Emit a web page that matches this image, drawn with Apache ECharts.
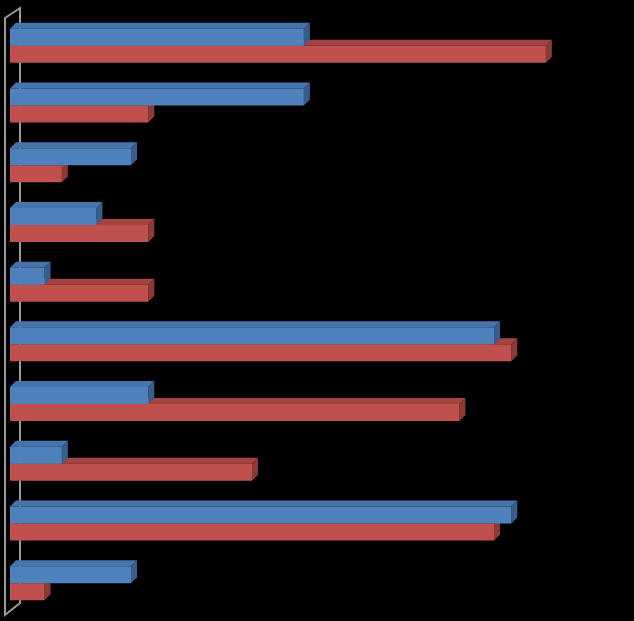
<!DOCTYPE html>
<html>
<head>
<meta charset="utf-8">
<style>
  html, body { margin: 0; padding: 0; background: #000; }
  #chart { width: 634px; height: 621px; }
</style>
<script src="https://cdn.jsdelivr.net/npm/echarts@6/dist/echarts.min.js"></script>
</head>
<body>
<div id="chart"></div>
<script>
// categories top to bottom
var categories = ['1', '2', '3', '4', '5', '6', '7', '8', '9', '10']
var blueValues = [17, 17, 7, 5, 2, 28, 8, 3, 29, 7]
var redValues = [31, 8, 3, 8, 8, 29, 26, 14, 28, 2]

var chart = echarts.init(document.getElementById('chart'))

// 3d box: front face + top face + side face
function box3d(front, top, side, offset) {
  return function(params, api) {
    var cat = api.value(0)
    var val = api.value(1)
    var start = api.coord([0, cat])
    var end = api.coord([val, cat])
    var h = 17
    var dx = 6, dy = 6
    var y0 = start[1] + offset * h
    var x0 = start[0], x1 = end[0]
    return {
      type: 'group',
      children: [
        {
          type: 'polygon',
          shape: { points: [[x0, y0], [x0 + dx, y0 - dy], [x1 + dx, y0 - dy], [x1, y0]] },
          style: { fill: top }
        },
        {
          type: 'polygon',
          shape: { points: [[x1, y0], [x1 + dx, y0 - dy], [x1 + dx, y0 + h - dy], [x1, y0 + h]] },
          style: { fill: side }
        },
        {
          type: 'rect',
          shape: { x: x0, y: y0, width: x1 - x0, height: h },
          style: { fill: front }
        }
      ]
    }
  }
}

chart.setOption({
  backgroundColor: '#000',
  animation: false,
  grid: { left: 10, right: 19, top: 16, bottom: 8 },
  xAxis: { type: 'value', min: 0, max: 35, show: false },
  yAxis: { type: 'category', data: categories, inverse: true, show: false },
  graphic: [{
    type: 'polygon',
    z: -1,
    shape: { points: [[5, 18], [20, 8], [20, 603], [5, 615]] },
    style: { fill: 'none', stroke: '#9a9a9a', lineWidth: 2 }
  }],
  series: [
    {
      name: 'red',
      type: 'custom',
      z: 2,
      renderItem: box3d('#C0504D', '#A44441', '#8B3A38', 0),
      data: redValues.map(function(v, i) { return [i, v] }),
      encode: { x: 1, y: 0 }
    },
    {
      name: 'blue',
      type: 'custom',
      z: 3,
      renderItem: box3d('#4F81BD', '#4675AD', '#385D8A', -1),
      data: blueValues.map(function(v, i) { return [i, v] }),
      encode: { x: 1, y: 0 }
    }
  ]
})
</script>
</body>
</html>
